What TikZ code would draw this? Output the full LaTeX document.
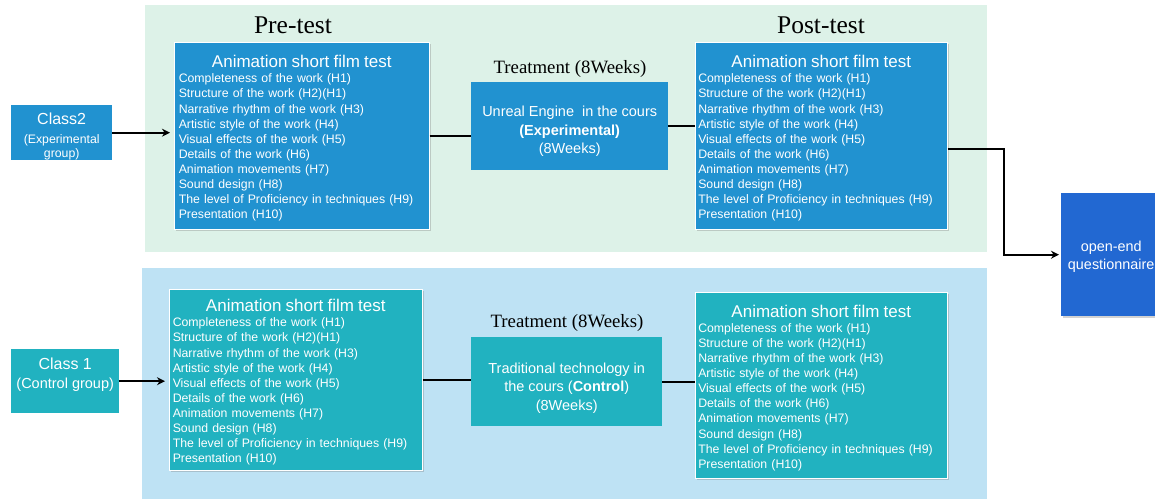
\documentclass[tikz,border=0pt]{standalone}
\usepackage{fontspec}
\setmainfont{Liberation Serif}
\setsansfont{Liberation Sans}
\usetikzlibrary{arrows.meta,shadows}

\definecolor{expblue}{RGB}{33,146,208}
\definecolor{ctlteal}{RGB}{33,178,192}
\definecolor{mintbg}{RGB}{221,242,232}
\definecolor{skybg}{RGB}{190,226,244}
\definecolor{qblue}{RGB}{34,104,210}

\newcommand{\hlist}{Completeness of the work (H1)\\Structure of the work (H2)(H1)\\Narrative rhythm of the work (H3)\\Artistic style of the work (H4)\\Visual effects of the work (H5)\\Details of the work (H6)\\Animation movements (H7)\\Sound design (H8)\\The level of Proficiency in techniques (H9)\\Presentation (H10)}
\newcommand{\testtext}{{\centering\fontsize{17}{20}\selectfont\rule{0pt}{17.5pt}Animation short film test\par}\hlist}

\tikzset{
  boxshadow/.style={drop shadow={shadow xshift=2pt,shadow yshift=-2pt,opacity=0.35}},
  testbox/.style={anchor=north west,draw=white,line width=0.5pt,text=white,
    font=\sffamily\fontsize{12.3}{15.1}\selectfont,inner xsep=3pt,inner ysep=4pt,
    text width=246pt,align=left,boxshadow},
  treatbox/.style={anchor=north west,text=white,align=center,
    font=\sffamily\fontsize{14.5}{18.5}\selectfont,inner sep=0pt},
  classbox/.style={anchor=north west,text=white,align=center,inner sep=0pt},
  stagetitle/.style={font=\rmfamily\fontsize{25.5}{27}\selectfont},
  treattitle/.style={font=\rmfamily\fontsize{18.8}{20}\selectfont},
  link/.style={line width=2pt,black},
  flow/.style={link,-{Stealth[length=8pt,width=8pt]}}
}

\begin{document}
\begin{tikzpicture}[x=1pt,y=-1pt]
\fill[white](0,0)rectangle(1155,499);
\useasboundingbox(0,0)rectangle(1155,499);
% group panels
\fill[mintbg](145,5)rectangle(987,252);
\fill[skybg](142,268)rectangle(987,499);

% experimental group
\node[stagetitle](pretitle)at(293,25){Pre-test};
\node[stagetitle](posttitle)at(821,25){Post-test};
\node[classbox,fill=expblue,minimum width=101pt,minimum height=55pt,
  font=\sffamily\fontsize{12.3}{14}\selectfont](cls2)at(11,105)
  {\fontsize{16}{17}\selectfont\rule{0pt}{19pt}Class2\\[5pt]\fontsize{12.3}{14}\selectfont(Experimental\\group)};
\node[testbox,fill=expblue,minimum width=255pt,minimum height=187pt](expre)at(174,42){\testtext};
\node[treattitle](exttitle)at(570,69){Treatment (8Weeks)};
\node[treatbox,fill=expblue,minimum width=197pt,minimum height=88pt](extreat)at(471,82)
  {\rule{0pt}{21.5pt}Unreal Engine\ \ in the cours\\\textbf{(Experimental)}\\(8Weeks)};
\node[testbox,fill=expblue,minimum width=252pt,minimum height=187pt](expost)at(695,42){\testtext};

% control group
\node[classbox,fill=ctlteal,minimum width=108pt,minimum height=64pt,
  font=\sffamily\fontsize{14.5}{19}\selectfont](cls1)at(11,349)
  {\fontsize{16}{19}\selectfont Class 1\\\fontsize{14.5}{19}\selectfont(Control group)\rule[-16pt]{0pt}{0pt}};
\node[testbox,fill=ctlteal,minimum width=253pt,minimum height=181pt](ctpre)at(169,289){\testtext};
\node[treattitle](cttitle)at(567,323){Treatment (8Weeks)};
\node[treatbox,fill=ctlteal,minimum width=191pt,minimum height=89pt](cttreat)at(471,337)
  {\rule{0pt}{23.5pt}Traditional technology in\\the cours (\textbf{Control})\\(8Weeks)};
\node[testbox,fill=ctlteal,minimum width=252pt,minimum height=186pt](ctpost)at(695,292){\testtext};

% questionnaire
\node[classbox,fill=qblue,minimum width=100pt,minimum height=123pt,boxshadow,
  font=\sffamily\fontsize{14.4}{18}\selectfont](quest)at(1061,193){\rule{0pt}{15pt}open-end\\questionnaire};

% connectors
\draw[flow,shorten >=4pt](cls2.east)--(cls2.east-|expre.west);
\draw[link](expre.east)--(expre.east-|extreat.west);
\draw[link](extreat.east)--(extreat.east-|expost.west);
\draw[flow,shorten >=2pt]([yshift=-13.5pt]expost.east)--++(56,0)|-(quest.west);
\draw[flow,shorten >=4pt](cls1.east)--(cls1.east-|ctpre.west);
\draw[link](ctpre.east)--(ctpre.east-|cttreat.west);
\draw[link](cttreat.east)--(cttreat.east-|ctpost.west);
\end{tikzpicture}
\end{document}
